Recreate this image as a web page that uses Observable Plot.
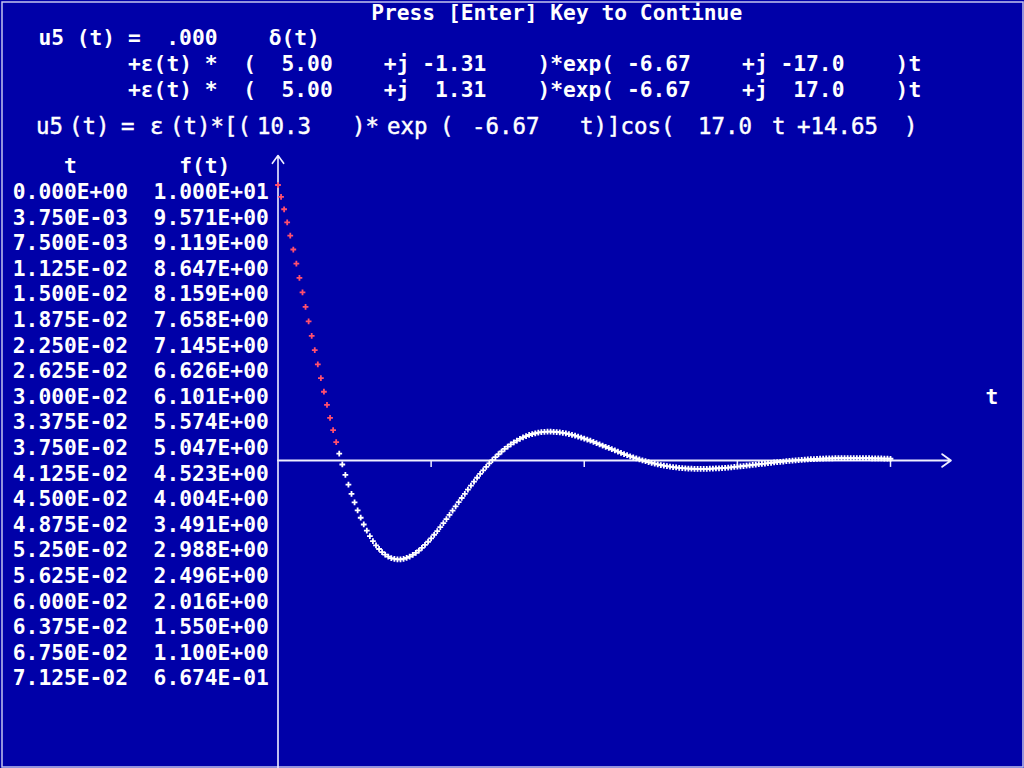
<!DOCTYPE html>
<html><head><meta charset="utf-8">
<script src="https://cdn.jsdelivr.net/npm/d3@7"></script>
<script src="https://cdn.jsdelivr.net/npm/@observablehq/plot@0.6"></script>
<style>
html,body{margin:0;padding:0;background:#0000a8;}
#wrap{position:relative;width:1024px;height:768px;overflow:hidden;}
#wrap svg{position:absolute;left:0;top:0;}
</style></head><body><div id="wrap"></div>
<script>
// ---- data ----
const tStep = 0.00375;
const tableT = [0, 0.00375, 0.0075, 0.01125, 0.015, 0.01875, 0.0225, 0.02625, 0.03, 0.03375,
  0.0375, 0.04125, 0.045, 0.04875, 0.0525, 0.05625, 0.06, 0.06375, 0.0675, 0.07125];
const tableF = [10.000, 9.571, 9.119, 8.647, 8.159, 7.658, 7.145, 6.626, 6.101, 5.574,
  5.047, 4.523, 4.004, 3.491, 2.988, 2.496, 2.016, 1.550, 1.100, 0.6674];
// samples after the table (t = 0.075 ... 0.75)
const curveF = [
  0.251, -0.145, -0.520, -0.876, -1.209, -1.521, -1.811, -2.078, -2.323, -2.546,
  -2.745, -2.923, -3.078, -3.212, -3.325, -3.416, -3.488, -3.541, -3.574, -3.590,
  -3.588, -3.570, -3.537, -3.489, -3.427, -3.353, -3.267, -3.171, -3.064, -2.949,
  -2.826, -2.696, -2.560, -2.419, -2.274, -2.125, -1.974, -1.821, -1.668, -1.514,
  -1.361, -1.209, -1.059, -0.912, -0.767, -0.626, -0.489, -0.357, -0.229, -0.107,
  0.010, 0.122, 0.227, 0.326, 0.419, 0.505, 0.585, 0.658, 0.725, 0.785,
  0.838, 0.885, 0.926, 0.961, 0.989, 1.012, 1.029, 1.040, 1.046, 1.047,
  1.043, 1.034, 1.022, 1.005, 0.984, 0.960, 0.933, 0.902, 0.869, 0.834,
  0.797, 0.758, 0.717, 0.675, 0.632, 0.588, 0.544, 0.499, 0.454, 0.409,
  0.365, 0.321, 0.278, 0.235, 0.194, 0.154, 0.115, 0.077, 0.041, 0.006,
  -0.027, -0.058, -0.087, -0.115, -0.140, -0.164, -0.186, -0.206, -0.224, -0.240,
  -0.254, -0.267, -0.277, -0.286, -0.293, -0.299, -0.302, -0.305, -0.305, -0.305,
  -0.302, -0.299, -0.294, -0.289, -0.282, -0.274, -0.266, -0.256, -0.246, -0.235,
  -0.224, -0.212, -0.200, -0.188, -0.175, -0.162, -0.149, -0.136, -0.123, -0.110,
  -0.097, -0.085, -0.072, -0.060, -0.048, -0.037, -0.026, -0.015, -0.005, 0.005,
  0.014, 0.023, 0.031, 0.039, 0.046, 0.053, 0.059, 0.064, 0.069, 0.073,
  0.077, 0.080, 0.083, 0.085, 0.087, 0.088, 0.089, 0.089, 0.089, 0.088,
  0.088, 0.086, 0.085, 0.083, 0.081, 0.078, 0.076, 0.073, 0.070, 0.066, 0.063
];
const tMax = 0.75;
const xTicks = [0.1875, 0.375, 0.5625, 0.75];
const headerLines = [
  {col: 29, row: 0, text: "Press [Enter] Key to Continue"},
  {col: 3, row: 1, text: "u5 (t) =  .000    δ(t)"},
  {col: 10, row: 2, text: "+ε(t) *  (  5.00    +j -1.31    )*exp( -6.67    +j -17.0    )t"},
  {col: 10, row: 3, text: "+ε(t) *  (  5.00    +j  1.31    )*exp( -6.67    +j  17.0    )t"}
];
const formulaTokens = [
  ["u5", 36], ["(t)", 69], ["=", 121], ["ε", 150], ["(t)*[(", 170], ["10.3", 257],
  [")*", 352], ["exp", 387], ["(", 440], ["-6.67", 472], ["t)]cos(", 580],
  ["17.0", 698], ["t", 772], ["+14.65", 797], [")", 904]
];

// ---- build ----
const BG = "#0000a8", FG = "#ffffff", RED = "#ff4f6e", AX = "#eeeeff";
const pts = [
  ...tableF.map((f, i) => ({t: tableT[i], f, red: true})),
  ...curveF.map((f, j) => ({t: (tableF.length + j) * tStep, f, red: false}))
];
const yTop = 11.07, yBottom = -11.3, xArrowEnd = 0.824;

const plot = Plot.plot({
  width: 1024, height: 768,
  marginTop: 1.5, marginRight: 1.5, marginBottom: 1.5, marginLeft: 1.5,
  style: {background: BG},
  x: {domain: [0, tMax], range: [277.5, 890], axis: null},
  y: {domain: [0, 10], range: [460, 184.5], axis: null},
  marks: [
    Plot.frame({stroke: "#c4c4ee", strokeWidth: 1.5}),
    Plot.arrow([{x1: 0, y1: yBottom, x2: 0, y2: yTop}], {x1: "x1", y1: "y1", x2: "x2", y2: "y2", stroke: AX, strokeWidth: 1.6, headLength: 9, headAngle: 72}),
    Plot.arrow([{x1: 0, y1: 0, x2: xArrowEnd, y2: 0}], {x1: "x1", y1: "y1", x2: "x2", y2: "y2", stroke: AX, strokeWidth: 1.8, headLength: 9, headAngle: 72}),
    Plot.ruleX(xTicks, {y1: 0, y2: -0.25, stroke: AX, strokeWidth: 1.5}),
    Plot.dot(pts, {x: "t", y: "f", symbol: "plus", r: 2, stroke: d => d.red ? RED : FG, strokeWidth: 1.8})
  ]
});
document.getElementById("wrap").appendChild(plot);

// ---- text layer (80x30 character screen) ----
const CW = 12.8, CH = 25.6, BASE = 19.8;
const ov = d3.select("#wrap").append("svg").attr("width", 1024).attr("height", 768);
function dos(col, row, str) {
  ov.append("text")
    .attr("x", col * CW).attr("y", row * CH + BASE)
    .attr("font-family", "'DejaVu Sans Mono', monospace")
    .attr("font-weight", "bold").attr("font-size", 21.26).attr("fill", FG)
    .style("white-space", "pre").text(str);
}
function fmtE(v) {
  if (v === 0) return "0.000E+00";
  let e = Math.floor(Math.log10(Math.abs(v)));
  let ms = (v / Math.pow(10, e)).toFixed(3);
  if (Math.abs(parseFloat(ms)) >= 10) { e += 1; ms = (v / Math.pow(10, e)).toFixed(3); }
  return ms + "E" + (e < 0 ? "-" : "+") + String(Math.abs(e)).padStart(2, "0");
}
headerLines.forEach(l => dos(l.col, l.row, l.text));
dos(5, 6, "t");
dos(14, 6, "f(t)");
tableT.forEach((t, i) => { dos(1, 7 + i, fmtE(t)); dos(12, 7 + i, fmtE(tableF[i])); });
dos(77, 15, "t");
formulaTokens.forEach(([s, x]) => {
  ov.append("text").attr("x", x).attr("y", 134)
    .attr("font-family", "'DejaVu Sans Mono', monospace")
    .attr("font-size", 22.4).attr("fill", FG)
    .attr("stroke", FG).attr("stroke-width", 0.45)
    .style("white-space", "pre").text(s);
});
</script></body></html>
